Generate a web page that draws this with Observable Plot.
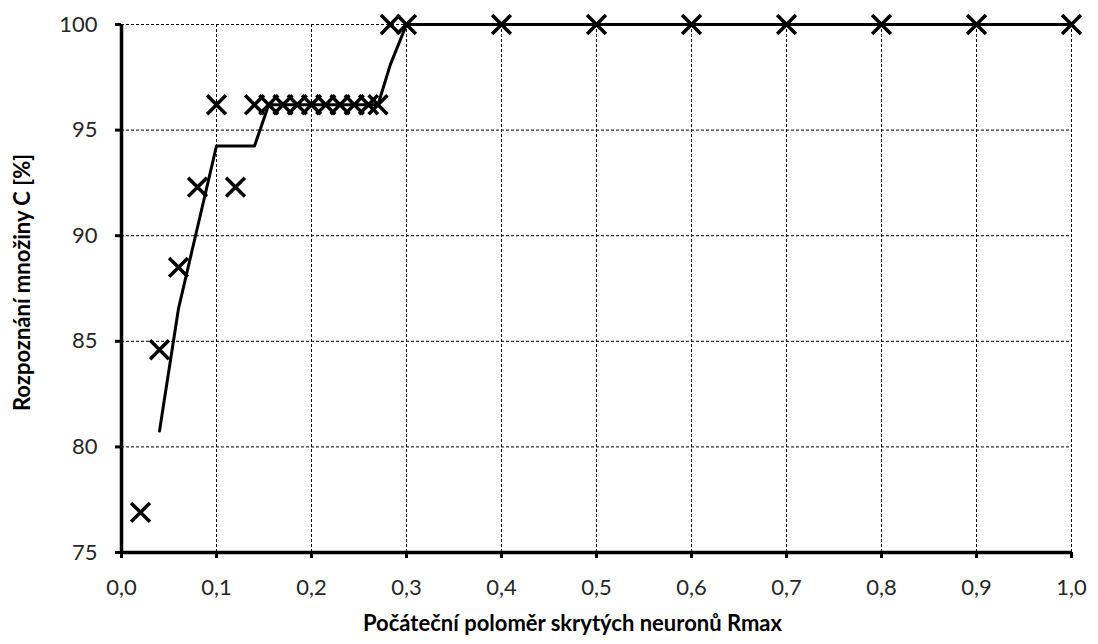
<!DOCTYPE html>
<html>
<head>
<meta charset="utf-8">
<script src="https://cdn.jsdelivr.net/npm/d3@7"></script>
<script src="https://cdn.jsdelivr.net/npm/@observablehq/plot@0.6"></script>
<style>
  html, body { margin: 0; padding: 0; background: #fff; }
</style>
</head>
<body>
<div id="chart"></div>
<script>
// Data
const rmax = [0.02, 0.04, 0.06, 0.08, 0.10, 0.12, 0.14, 0.155, 0.17, 0.185, 0.20, 0.215, 0.23, 0.245, 0.26, 0.27, 0.283, 0.30, 0.4, 0.5, 0.6, 0.7, 0.8, 0.9, 1.0];
const recog = [76.9, 84.6, 88.5, 92.3, 96.2, 92.3, 96.2, 96.2, 96.2, 96.2, 96.2, 96.2, 96.2, 96.2, 96.2, 96.2, 100, 100, 100, 100, 100, 100, 100, 100, 100];
const xTicks = [0, 0.1, 0.2, 0.3, 0.4, 0.5, 0.6, 0.7, 0.8, 0.9, 1.0];
const yTicks = [75, 80, 85, 90, 95, 100];
const xTitle = "Počáteční poloměr skrytých neuronů Rmax";
const yTitle = "Rozpoznání množiny C [%]";

const data = rmax.map((x, i) => ({x, y: recog[i]}));
const fmt = d => d.toFixed(1).replace(".", ",");
const dash = "3,2";

const chart = Plot.plot({
  width: 1098,
  height: 644,
  marginLeft: 121,
  marginRight: 27,
  marginTop: 24,
  marginBottom: 92,
  style: {fontFamily: "Lato, 'Open Sans', sans-serif", fontSize: "22px", color: "#262626", background: "#fff"},
  x: {domain: [0, 1]},
  y: {domain: [75, 100]},
  marks: [
    Plot.ruleX(xTicks.filter(d => d > 0), {stroke: "#000", strokeWidth: 1, strokeDasharray: dash}),
    Plot.ruleY(yTicks.filter(d => d > 75), {stroke: "#000", strokeWidth: 1, strokeDasharray: dash}),
    Plot.axisX({ticks: xTicks, tickFormat: fmt, tickSize: 6, tickPadding: 21, strokeWidth: 3, label: null, stroke: "#000"}),
    Plot.axisY({ticks: yTicks, tickSize: 6, tickPadding: 18, strokeWidth: 3, label: null, stroke: "#000"}),
    Plot.ruleY([75], {stroke: "#000", strokeWidth: 3.5}),
    Plot.ruleX([0], {stroke: "#000", strokeWidth: 3.5}),
    Plot.line(data, Plot.windowY({k: 2, anchor: "end", strict: true}, {x: "x", y: "y", stroke: "#000", strokeWidth: 3})),
    Plot.dot(data, {x: "x", y: "y", symbol: "times", r: 8.6, stroke: "#000", strokeWidth: 3.5}),
    Plot.text([xTitle], {frameAnchor: "bottom", dy: 78, dx: -24, fontWeight: "bold", fontSize: 22, fill: "#000"}),
    Plot.text([yTitle], {frameAnchor: "left", textAnchor: "middle", dx: -99, dy: -6, rotate: -90, fontWeight: "bold", fontSize: 22, fill: "#000"})
  ]
});
document.getElementById("chart").appendChild(chart);
</script>
</body>
</html>
